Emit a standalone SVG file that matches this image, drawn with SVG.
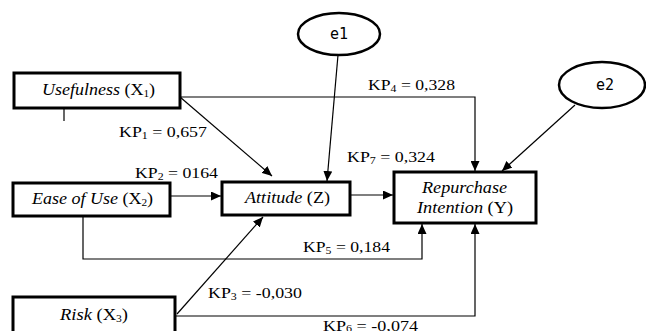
<svg xmlns="http://www.w3.org/2000/svg" width="646" height="331" viewBox="0 0 646 331">
<defs>
<marker id="arr" markerUnits="userSpaceOnUse" markerWidth="10" markerHeight="9" refX="10" refY="4.5" orient="auto">
<path d="M0,0 L10,4.5 L0,9 z" fill="#000"/>
</marker>
<style>
.box{fill:#fff;stroke:#000;stroke-width:3}
.ell{fill:#fff;stroke:#000;stroke-width:2.5}
.ln{fill:none;stroke:#000;stroke-width:1.2}
.arr{marker-end:url(#arr)}
.t{font-family:"Liberation Serif","Times New Roman",serif;font-size:16px;fill:#000}
.lb{font-family:"Liberation Serif","Times New Roman",serif;font-size:15px;fill:#000}
.e{font-family:"DejaVu Sans Mono","Liberation Mono",monospace;font-size:15px;fill:#000}
.i{font-style:italic}
.sub{font-size:10px}
</style>
</defs>
<rect width="646" height="331" fill="#fff"/>
<g id="connectors">
<line class="ln arr" x1="180" y1="97" x2="272" y2="176"/>
<polyline class="ln arr" points="180,97 475,97 475,171"/>
<line class="ln arr" x1="338" y1="55" x2="327" y2="181"/>
<line class="ln arr" x1="575" y1="105" x2="502" y2="171"/>
<line class="ln arr" x1="170" y1="196" x2="221" y2="196"/>
<line class="ln arr" x1="350" y1="195" x2="393" y2="195"/>
<polyline class="ln arr" points="83,216 83,259 422,259 422,224"/>
<line class="ln arr" x1="177" y1="314" x2="263" y2="217"/>
<polyline class="ln arr" points="175,316 475,316 475,224"/>
<line class="ln" x1="64" y1="108" x2="64" y2="121"/>
</g>
<g id="labels">
<text class="lb" x="119" y="137" textLength="88" lengthAdjust="spacingAndGlyphs">KP<tspan class="sub" dy="2">1</tspan><tspan dy="-2"> = 0,657</tspan></text>
<text class="lb" x="135" y="178" textLength="83" lengthAdjust="spacingAndGlyphs">KP<tspan class="sub" dy="2">2</tspan><tspan dy="-2"> = 0164</tspan></text>
<text class="lb" x="208" y="298" textLength="94" lengthAdjust="spacingAndGlyphs">KP<tspan class="sub" dy="2">3</tspan><tspan dy="-2"> = -0,030</tspan></text>
<text class="lb" x="368" y="90" textLength="87" lengthAdjust="spacingAndGlyphs">KP<tspan class="sub" dy="2">4</tspan><tspan dy="-2"> = 0,328</tspan></text>
<text class="lb" x="303" y="252" textLength="87" lengthAdjust="spacingAndGlyphs">KP<tspan class="sub" dy="2">5</tspan><tspan dy="-2"> = 0,184</tspan></text>
<text class="lb" x="323" y="331" textLength="95" lengthAdjust="spacingAndGlyphs">KP<tspan class="sub" dy="1">6</tspan><tspan dy="-1"> = -0,074</tspan></text>
<text class="lb" x="347" y="162" textLength="88" lengthAdjust="spacingAndGlyphs">KP<tspan class="sub" dy="2">7</tspan><tspan dy="-2"> = 0,324</tspan></text>
</g>
<g id="usefulness">
<rect class="box" x="14" y="73" width="166" height="35"/>
<text class="t" x="42" y="95" textLength="113" lengthAdjust="spacingAndGlyphs"><tspan class="i">Usefulness</tspan> (X<tspan class="sub" dy="2">1</tspan><tspan dy="-2">)</tspan></text>
</g>
<g id="ease">
<rect class="box" x="13" y="183" width="157" height="33"/>
<text class="t" x="32" y="204" textLength="121" lengthAdjust="spacingAndGlyphs"><tspan class="i">Ease of Use</tspan> (X<tspan class="sub" dy="2">2</tspan><tspan dy="-2">)</tspan></text>
</g>
<g id="risk">
<rect class="box" x="13" y="297" width="162" height="40"/>
<text class="t" x="60" y="320" textLength="68" lengthAdjust="spacingAndGlyphs"><tspan class="i">Risk</tspan> (X<tspan class="sub" dy="2">3</tspan><tspan dy="-2">)</tspan></text>
</g>
<g id="attitude">
<rect class="box" x="222" y="182" width="128" height="33"/>
<text class="t" x="245" y="203" textLength="85" lengthAdjust="spacingAndGlyphs"><tspan class="i">Attitude</tspan> (Z)</text>
</g>
<g id="repurchase">
<rect class="box" x="394" y="172" width="142" height="51"/>
<text class="t i" x="422" y="193" textLength="85" lengthAdjust="spacingAndGlyphs">Repurchase</text>
<text class="t" x="417" y="213" textLength="96" lengthAdjust="spacingAndGlyphs"><tspan class="i">Intention</tspan> (Y)</text>
</g>
<g id="e1">
<ellipse class="ell" cx="339" cy="34" rx="41" ry="21"/>
<text class="e" x="339" y="39" text-anchor="middle">e1</text>
</g>
<g id="e2">
<ellipse class="ell" cx="602" cy="85" rx="43" ry="23"/>
<text class="e" x="605" y="90" text-anchor="middle">e2</text>
</g>
</svg>
